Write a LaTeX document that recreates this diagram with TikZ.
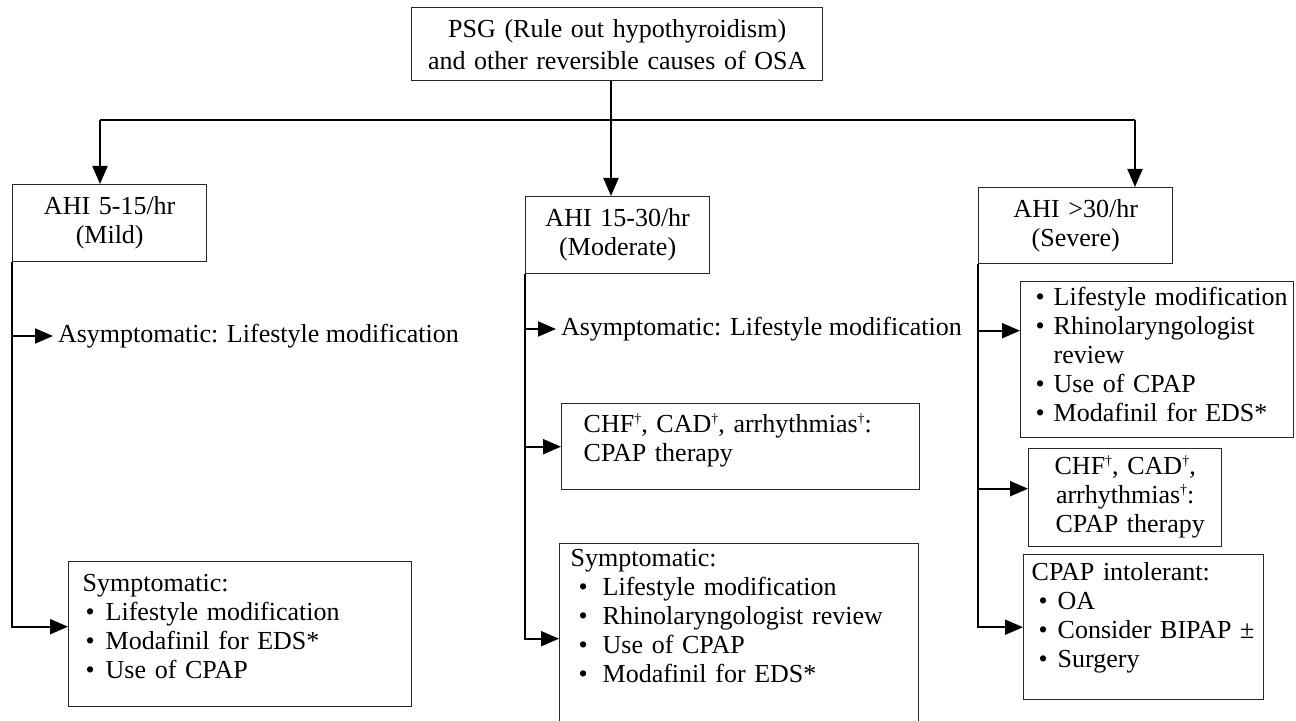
\documentclass[tikz,border=0pt]{standalone}
\usepackage{fontspec}
\setmainfont{Liberation Serif}
\usetikzlibrary{arrows.meta}

\newcommand{\bitem}[3]{\hspace*{#1}\makebox[#2][l]{\textbullet}\mbox{#3}}
\newcommand{\dg}{\raisebox{4.5pt}{\fontsize{7}{7}\selectfont\dag}}

\begin{document}
\begin{tikzpicture}[x=0.5pt, y=-0.5pt, -{Triangle[length=9pt,width=7.5pt]}, line width=1pt,
    font=\fontsize{13}{14.5}\selectfont,
    box/.style={draw=black!85, line width=0.7pt, anchor=north west, inner xsep=5pt, inner ysep=0pt, text height=9pt},
    txt/.style={anchor=west, inner xsep=2pt, inner ysep=0pt}]
  \useasboundingbox (0,0) rectangle (1296,721);
  % first step and the three grades
  \node[box, align=center, text width=195.5pt, minimum height=36.5pt, font=\fontsize{13}{16}\selectfont] at (411,7) (PSG) {PSG (Rule out hypothyroidism)\\and other reversible causes of OSA};
  \node[box, align=center, text width=87pt, minimum height=38.5pt] at (12,184) (Mild) {AHI 5-15/hr\\(Mild)};
  \node[box, align=center, text width=82pt, minimum height=38.5pt] at (525,196) (Moderate) {AHI 15-30/hr\\(Moderate)};
  \node[box, align=center, text width=87pt, minimum height=38pt] at (978,187) (Severe) {AHI >30/hr\\(Severe)};
  % mild
  \node[txt] at (53,336) (AsMild) {Asymptomatic: Lifestyle modification};
  \node[box, align=left, text width=157.5pt, inner xsep=7pt, inner ysep=6pt, text depth=51.5pt] at (68,561) (SyMild) {Symptomatic:\\\bitem{1.5pt}{10pt}{Lifestyle modification}\\\bitem{1.5pt}{10pt}{Modafinil for EDS*}\\\bitem{1.5pt}{10pt}{Use of CPAP}};
  % moderate
  \node[txt] at (556,329) (AsMod) {Asymptomatic: Lifestyle modification};
  \node[box, align=left, text width=157pt, inner xsep=11pt, inner ysep=5.5pt, text depth=23pt] at (561,403) (CHFMod) {CHF\dg, CAD\dg, arrhythmias\dg:\\CPAP therapy};
  \node[box, align=left, text width=168.5pt, inner xsep=5.5pt, inner ysep=2.5pt, text depth=87pt] at (559,543) (SyMod) {Symptomatic:\\\bitem{4pt}{12pt}{Lifestyle modification}\\\bitem{4pt}{12pt}{Rhinolaryngologist review}\\\bitem{4pt}{12pt}{Use of CPAP}\\\bitem{4pt}{12pt}{Modafinil for EDS*}};
  % severe
  \node[box, align=left, text width=130.5pt, inner xsep=3pt, inner ysep=3pt, text depth=63pt] at (1020,281) (ListSev) {\bitem{4.5pt}{9pt}{Lifestyle modification}\\\bitem{4.5pt}{9pt}{Rhinolaryngologist}\\\hspace*{13.5pt}review\\\bitem{4.5pt}{9pt}{Use of CPAP}\\\bitem{4.5pt}{9pt}{Modafinil for EDS*}};
  \node[box, align=center, text width=86.5pt, inner ysep=4pt, text depth=32pt] at (1028,448) (CHFSev) {CHF\dg, CAD\dg,\\arrhythmias\dg:\\\hspace*{5pt}CPAP therapy};
  \node[box, align=left, text width=112pt, inner xsep=4pt, inner ysep=4pt, text depth=55.5pt] at (1023,554) (Intol) {CPAP intolerant:\\\bitem{3.5pt}{9.5pt}{OA}\\\bitem{3.5pt}{9.5pt}{Consider BIPAP ±}\\\bitem{3.5pt}{9.5pt}{Surgery}};

  \coordinate (Split) at (611,120);
  \coordinate (Left) at (100,120);
  \coordinate (Right) at (1135,120);
  \draw[-] (Split |- PSG.south) -- (Split);
  \draw[-] (Left) -- (Right);
  \draw (Left) -- (Left |- Mild.north);
  \draw (Split) -- (Split |- Moderate.north);
  \draw (Right) -- (Right |- Severe.north);

  \draw (Mild.south west |- AsMild.west) -- (AsMild.west);
  \draw (Mild.south west) |- ([yshift=3.75pt]SyMild.west);

  \draw (Moderate.south west |- AsMod.west) -- (AsMod.west);
  \draw (Moderate.south west |- CHFMod.west) -- (CHFMod.west);
  \draw (Moderate.south west) |- ([yshift=3pt]SyMod.west);

  \draw (Severe.south west |- ListSev.west) ++(0,-29) -- ([yshift=14.5pt]ListSev.west);
  \draw (Severe.south west |- CHFSev.west) ++(0,-9) -- ([yshift=4.5pt]CHFSev.west);
  \draw (Severe.south west) |- (Intol.west);
\end{tikzpicture}
\end{document}
